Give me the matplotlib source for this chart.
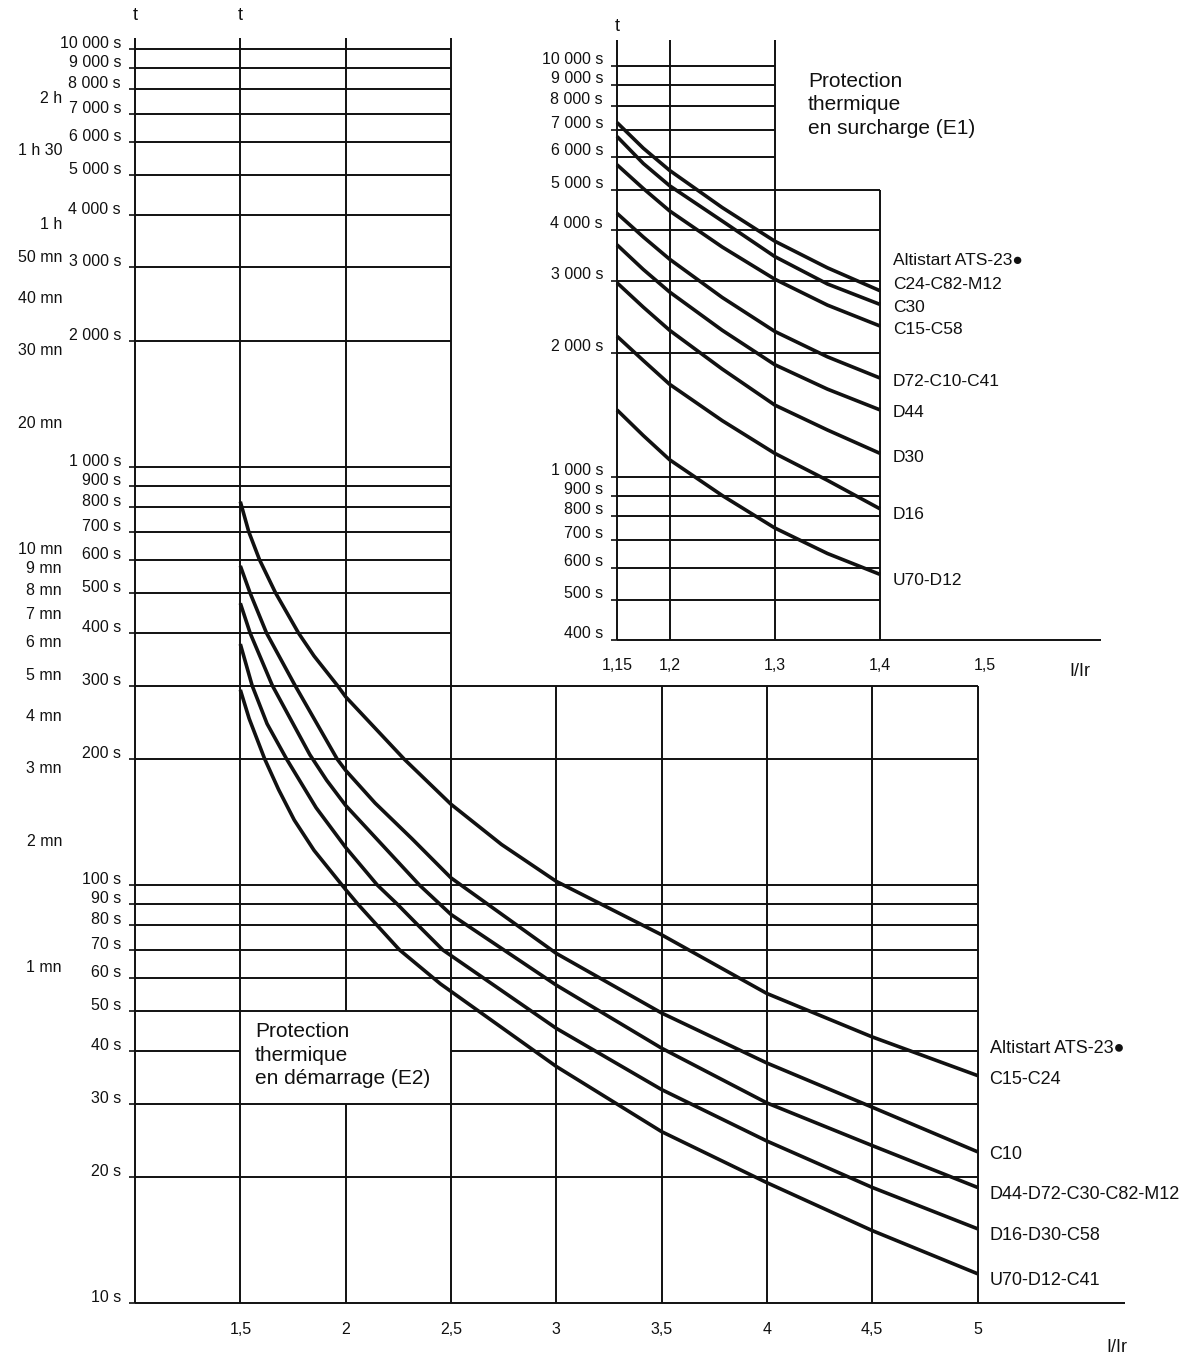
import matplotlib
matplotlib.use('Agg')
import matplotlib.pyplot as plt
from matplotlib.transforms import blended_transform_factory, ScaledTranslation

plt.rcParams['font.family'] = ['Liberation Sans', 'DejaVu Sans']

# ---- E2 : protection thermique en demarrage (big chart) ----
e2_names = ['C15-C24', 'C10', 'D44-D72-C30-C82-M12', 'D16-D30-C58', 'U70-D12-C41']
e2_i = [
    [1.5, 1.54, 1.591, 1.667, 1.777, 1.85, 1.961, 2.0, 2.278, 2.5, 2.74, 3.0, 3.5, 4.0, 4.5, 5.0],
    [1.5, 1.546, 1.625, 1.76, 1.96, 2.0, 2.14, 2.315, 2.5, 3.0, 3.5, 4.0, 4.5, 5.0],
    [1.5, 1.547, 1.652, 1.83, 1.91, 2.0, 2.35, 2.5, 3.0, 3.5, 4.0, 4.5, 5.0],
    [1.5, 1.556, 1.627, 1.72, 1.86, 2.0, 2.15, 2.245, 2.345, 2.46, 3.0, 3.5, 4.0, 4.5, 5.0],
    [1.5, 1.542, 1.616, 1.682, 1.756, 1.85, 2.0, 2.058, 2.15, 2.255, 2.45, 3.0, 3.5, 4.0, 4.5, 5.0],
]
e2_t = [
    [826, 700, 600, 500, 400, 353, 300, 282, 200, 156, 125, 102, 76, 55, 43.3, 35],
    [580, 500, 400, 300, 200, 188, 157, 129, 104, 68.6, 49.4, 37.5, 29.4, 23.0],
    [472, 400, 300, 205, 178, 155, 100, 85, 57.6, 40.7, 30.1, 23.8, 18.9],
    [377, 300, 243, 200, 153, 123, 100, 90, 80, 70, 45.4, 32.4, 24.4, 18.9, 15.05],
    [293, 250, 200, 169, 143, 121, 97.5, 90, 80, 70, 58, 36.8, 25.7, 19.4, 14.9, 11.75],
]
e2_ticks = [10000, 9000, 8000, 7000, 6000, 5000, 4000, 3000, 2000,
            1000, 900, 800, 700, 600, 500, 400, 300, 200,
            100, 90, 80, 70, 60, 50, 40, 30, 20, 10]
e2_minutes = [7200, 5400, 3600, 3000, 2400, 1800, 1200, 600, 540, 480,
              420, 360, 300, 240, 180, 120, 60]
e2_minute_labels = ['2 h', '1 h 30', '1 h', '50 mn', '40 mn', '30 mn', '20 mn',
                    '10 mn', '9 mn', '8 mn', '7 mn', '6 mn', '5 mn', '4 mn',
                    '3 mn', '2 mn', '1 mn']
e2_x_ticks = [1.5, 2, 2.5, 3, 3.5, 4, 4.5, 5]
e2_x_labels = ['1,5', '2', '2,5', '3', '3,5', '4', '4,5', '5']

# ---- E1 : protection thermique en surcharge (inset) ----
e1_names = ['C24-C82-M12', 'C30', 'C15-C58', 'D72-C10-C41', 'D44', 'D30', 'D16', 'U70-D12']
e1_i = [1.15, 1.175, 1.2, 1.25, 1.3, 1.35, 1.4]
e1_t = [
    [7300, 6320, 5580, 4530, 3750, 3230, 2840],
    [6750, 5800, 5120, 4200, 3440, 2950, 2630],
    [5760, 5040, 4445, 3630, 3030, 2620, 2330],
    [4385, 3840, 3390, 2735, 2260, 1960, 1740],
    [3675, 3200, 2820, 2275, 1875, 1635, 1455],
    [2970, 2590, 2275, 1830, 1495, 1300, 1140],
    [2200, 1920, 1680, 1370, 1140, 980, 835],
    [1455, 1260, 1100, 900, 750, 650, 578],
]
e1_ticks = [10000, 9000, 8000, 7000, 6000, 5000, 4000, 3000, 2000,
            1000, 900, 800, 700, 600, 500, 400]
e1_x_ticks = [1.15, 1.2, 1.3, 1.4, 1.5]
e1_x_labels = ['1,15', '1,2', '1,3', '1,4', '1,5']

# label nudges in pixels (layout only)
e2_label_dy = [-4, -3, -7, -7, -7]
e1_label_dy = [6, -3, -3, -3, -3, -4, -6, -6]

header = 'Altistart ATS-23\u25cf'
ink = '#111111'
W, H = 1193, 1362

fig = plt.figure(figsize=(W / 100, H / 100), dpi=100)
fig.patch.set_facecolor('white')


def px_axes(left, top, right, bottom):
    a = fig.add_axes([left / W, 1 - bottom / H, (right - left) / W, (bottom - top) / H])
    for sp in a.spines.values():
        sp.set_visible(False)
    a.patch.set_alpha(0)
    a.set_yscale('log')
    a.minorticks_off()
    return a


def s_label(v):
    return f'{v:,} s'.replace(',', ' ')


def shift_ylabels(a, dy):
    for lab in a.get_yticklabels():
        lab.set_transform(lab.get_transform() + ScaledTranslation(0, dy / 100, fig.dpi_scale_trans))


grid_kw = dict(color=ink, lw=1.4, clip_on=False)
curve_kw = dict(color=ink, lw=2.6, clip_on=False, solid_capstyle='butt', solid_joinstyle='round')

# ===== big chart =====
ax = px_axes(135, 38, 1125, 1303)
ax.set_xlim(1.0, 5.7)
ax.set_ylim(10, 10620)
top = ax.get_ylim()[1]

ax.vlines([1.0, 1.5, 2.5], 10, top, **grid_kw)
ax.vlines(2.0, 10, 30, **grid_kw)
ax.vlines(2.0, 50, top, **grid_kw)
ax.vlines([3, 3.5, 4, 4.5, 5], 10, 300, **grid_kw)
for v in e2_ticks:
    if v == 10:
        ax.hlines(v, 1.0, 5.7, **grid_kw)
    elif v > 300:
        ax.hlines(v, 1.0, 2.5, **grid_kw)
    elif v == 40:
        ax.hlines(v, 1.0, 1.5, **grid_kw)
        ax.hlines(v, 2.5, 5.0, **grid_kw)
    else:
        ax.hlines(v, 1.0, 5.0, **grid_kw)

ax.set_yticks(e2_ticks, labels=[s_label(v) for v in e2_ticks])
ax.minorticks_off()
ax.tick_params(axis='y', length=4, width=1.2, pad=6, labelsize=11.5, colors=ink)
ax.set_xticks(e2_x_ticks, labels=e2_x_labels)
ax.tick_params(axis='x', length=0, pad=14, labelsize=11.5, colors=ink)
shift_ylabels(ax, 7)

for name, xs, ts, dy in zip(e2_names, e2_i, e2_t, e2_label_dy):
    ax.plot(xs, ts, **curve_kw)
    ax.annotate(name, (xs[-1], ts[-1]), xytext=(12, dy), textcoords='offset pixels',
                ha='left', va='center', fontsize=13, color=ink)
ax.annotate(header, (e2_i[0][-1], e2_t[0][-1]), xytext=(12, 27), textcoords='offset pixels',
            ha='left', va='center', fontsize=13, color=ink)

min_tr = blended_transform_factory(fig.transFigure, ax.transData) + \
    ScaledTranslation(0, 10 / 100, fig.dpi_scale_trans)
for v, lab in zip(e2_minutes, e2_minute_labels):
    ax.text(62 / W, v, lab, transform=min_tr, ha='right', va='center', fontsize=11.5, color=ink)

xa = blended_transform_factory(ax.transData, ax.transAxes)
ax.text(1.0, 1.018, 't', transform=xa, ha='center', va='center', fontsize=13, color=ink)
ax.text(1.5, 1.018, 't', transform=xa, ha='center', va='center', fontsize=13, color=ink)
ax.text(5.663, -0.035, 'I/Ir', transform=xa, ha='center', va='center', fontsize=13, color=ink)
ax.text(1.57, 47, 'Protection\nthermique\nen démarrage (E2)', ha='left', va='top',
        fontsize=15, linespacing=1.3, color=ink)

# ===== inset chart =====
ax2 = px_axes(617, 40, 1101, 640)
ax2.set_xlim(1.15, 1.61)
ax2.set_ylim(400, 11600)
top2 = ax2.get_ylim()[1]

ax2.vlines([1.15, 1.2, 1.3], 400, top2, **grid_kw)
ax2.vlines(1.4, 400, 5000, **grid_kw)
for v in e1_ticks:
    if v == 400:
        ax2.hlines(v, 1.15, 1.61, **grid_kw)
    elif v > 5000:
        ax2.hlines(v, 1.15, 1.3, **grid_kw)
    else:
        ax2.hlines(v, 1.15, 1.4, **grid_kw)

ax2.set_yticks(e1_ticks, labels=[s_label(v) for v in e1_ticks])
ax2.minorticks_off()
ax2.tick_params(axis='y', length=4, width=1.2, pad=6, labelsize=11.5, colors=ink)
ax2.set_xticks(e1_x_ticks, labels=e1_x_labels)
ax2.tick_params(axis='x', length=0, pad=13, labelsize=11.5, colors=ink)
shift_ylabels(ax2, 8)

for name, ts, dy in zip(e1_names, e1_t, e1_label_dy):
    ax2.plot(e1_i, ts, **curve_kw)
    ax2.annotate(name, (e1_i[-1], ts[-1]), xytext=(13, dy), textcoords='offset pixels',
                 ha='left', va='center', fontsize=12.5, color=ink)
ax2.annotate(header, (e1_i[-1], e1_t[0][-1]), xytext=(13, 30), textcoords='offset pixels',
             ha='left', va='center', fontsize=12.5, color=ink)

xb = blended_transform_factory(ax2.transData, ax2.transAxes)
ax2.text(1.15, 1.022, 't', transform=xb, ha='center', va='center', fontsize=13, color=ink)
ax2.text(1.59, -0.053, 'I/Ir', transform=xb, ha='center', va='center', fontsize=13, color=ink)
ax2.text(1.3316, 9710, 'Protection\nthermique\nen surcharge (E1)', ha='left', va='top',
         fontsize=15, linespacing=1.3, color=ink)

fig.savefig('out.png', dpi=100, facecolor='white')
